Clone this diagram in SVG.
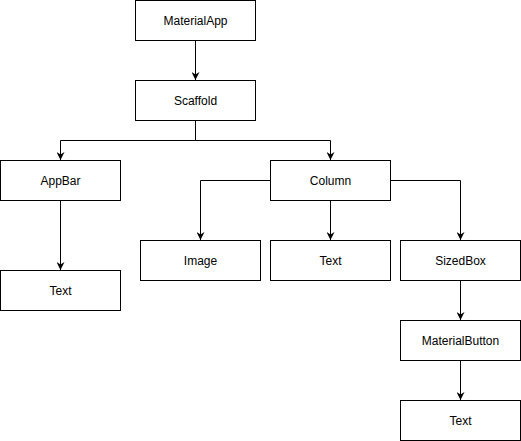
<svg xmlns="http://www.w3.org/2000/svg" width="521" height="441" viewBox="0 0 521 441">
<style>
.n rect{fill:#fff;stroke:#000;stroke-width:1}
.n text{font-family:"Liberation Sans",Arial,sans-serif;font-size:12px;fill:#000;text-anchor:middle;dominant-baseline:central}
.e path{fill:none;stroke:#000;stroke-width:1}
</style>
<defs>
<marker id="arr" viewBox="0 0 10 10" refX="10" refY="5" markerWidth="8" markerHeight="8" markerUnits="userSpaceOnUse" orient="auto">
<path d="M0,0 L10,5 L0,10 L3,5 Z" fill="#000"/>
</marker>
</defs>
<rect width="521" height="441" fill="#fff"/>
<g id="connectors" class="e">
<path d="M195.5,40.5 V80" marker-end="url(#arr)"/>
<path d="M195.5,120.5 V140.5 H60.5 V160" marker-end="url(#arr)"/>
<path d="M195.5,140.5 H330.5 V160" marker-end="url(#arr)"/>
<path d="M60.5,200.5 V270" marker-end="url(#arr)"/>
<path d="M270.5,180.5 H200.5 V240" marker-end="url(#arr)"/>
<path d="M330.5,200.5 V240" marker-end="url(#arr)"/>
<path d="M390.5,180.5 H460.5 V240" marker-end="url(#arr)"/>
<path d="M460.5,280.5 V320" marker-end="url(#arr)"/>
<path d="M460.5,360.5 V400" marker-end="url(#arr)"/>
</g>
<g id="materialapp" class="n"><rect x="135.5" y="0.5" width="120" height="40"/><text x="195.5" y="20.5">MaterialApp</text></g>
<g id="scaffold" class="n"><rect x="135.5" y="80.5" width="120" height="40"/><text x="195.5" y="100.5">Scaffold</text></g>
<g id="appbar" class="n"><rect x="0.5" y="160.5" width="120" height="40"/><text x="60.5" y="180.5">AppBar</text></g>
<g id="column" class="n"><rect x="270.5" y="160.5" width="120" height="40"/><text x="330.5" y="180.5">Column</text></g>
<g id="text1" class="n"><rect x="0.5" y="270.5" width="120" height="40"/><text x="60.5" y="290.5">Text</text></g>
<g id="image" class="n"><rect x="140.5" y="240.5" width="120" height="40"/><text x="200.5" y="260.5">Image</text></g>
<g id="text2" class="n"><rect x="270.5" y="240.5" width="120" height="40"/><text x="330.5" y="260.5">Text</text></g>
<g id="sizedbox" class="n"><rect x="400.5" y="240.5" width="120" height="40"/><text x="460.5" y="260.5">SizedBox</text></g>
<g id="materialbutton" class="n"><rect x="400.5" y="320.5" width="120" height="40"/><text x="460.5" y="340.5">MaterialButton</text></g>
<g id="text3" class="n"><rect x="400.5" y="400.5" width="120" height="40"/><text x="460.5" y="420.5">Text</text></g>
</svg>
